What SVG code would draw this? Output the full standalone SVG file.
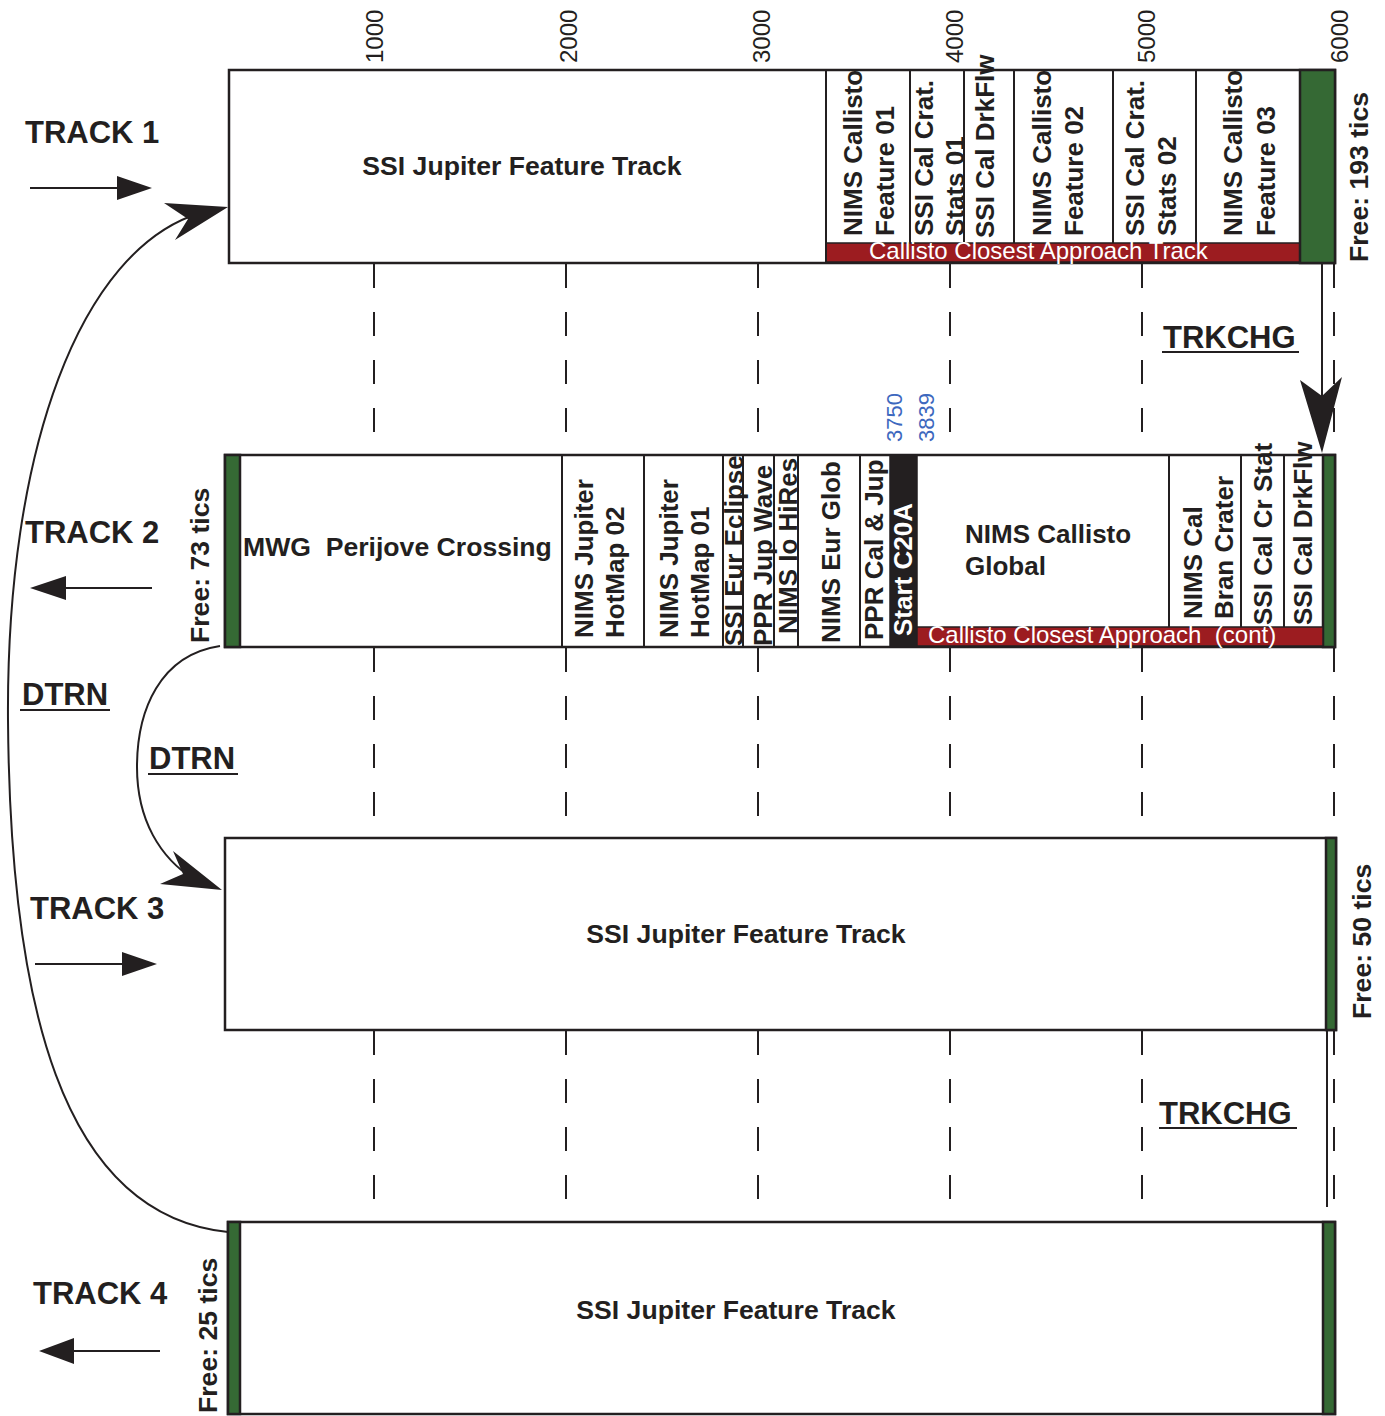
<svg xmlns="http://www.w3.org/2000/svg" width="1385" height="1416" viewBox="0 0 1385 1416">
<style>
text{font-family:"Liberation Sans",Arial,sans-serif;fill:#231f20}
.b{font-weight:bold;font-size:26px}
.m{font-weight:bold;font-size:26.6px}
.big{font-weight:bold;font-size:31px}
.lbl{font-weight:bold;font-size:31px}
.ax{font-size:24px}
.blue{font-size:22px;fill:#3d68be}
.wt{font-size:24px;fill:#ffffff;white-space:pre}
.wb{font-weight:bold;font-size:26px;fill:#ffffff}
.box{fill:#ffffff;stroke:#231f20;stroke-width:2.5}
.grn{fill:#356934;stroke:#231f20;stroke-width:2.5}
.red{fill:#9c1c20;stroke:#231f20;stroke-width:1.5}
.blk{fill:#231f20;stroke:#231f20;stroke-width:1.5}
.seg{stroke:#231f20;stroke-width:2;fill:none}
.dash{stroke:#231f20;stroke-width:2;stroke-dasharray:24 24;fill:none}
.conn{stroke:#231f20;stroke-width:2;fill:none}
.ul{stroke:#231f20;stroke-width:2}
.ah{fill:#231f20}
</style>

<g id="axis">
  <text class="ax" transform="translate(383,63) rotate(-90)">1000</text>
  <text class="ax" transform="translate(577,63) rotate(-90)">2000</text>
  <text class="ax" transform="translate(770,63) rotate(-90)">3000</text>
  <text class="ax" transform="translate(963,63) rotate(-90)">4000</text>
  <text class="ax" transform="translate(1155,63) rotate(-90)">5000</text>
  <text class="ax" transform="translate(1348,63) rotate(-90)">6000</text>
</g>

<g id="gridlines">
  <path class="dash" d="M374 264V432M566 264V432M758 264V432M950 264V432M1142 264V432M1334 264V432"/>
  <path class="dash" d="M374 648V816M566 648V816M758 648V816M950 648V816M1142 648V816M1334 648V816"/>
  <path class="dash" d="M374 1031V1199M566 1031V1199M758 1031V1199M950 1031V1199M1142 1031V1199M1334 1031V1199"/>
</g>

<g id="track1">
  <rect class="box" x="229" y="70" width="1106" height="193"/>
  <rect class="red" x="826" y="243" width="474" height="19"/>
  <rect class="grn" x="1300" y="70" width="35" height="193"/>
  <path class="seg" d="M826 70V263M910 70V243M964 70V243M1014 70V243M1113 70V243M1196 70V243"/>
  <text class="m" x="522" y="175" text-anchor="middle">SSI Jupiter Feature Track</text>
  <text class="b" transform="translate(862,236) rotate(-90)">NIMS Callisto</text>
  <text class="b" transform="translate(894,236) rotate(-90)">Feature 01</text>
  <text class="b" transform="translate(933,236) rotate(-90)">SSI Cal Crat.</text>
  <text class="b" transform="translate(964,236) rotate(-90)">Stats 01</text>
  <text class="b" transform="translate(994,238) rotate(-90)">SSI Cal DrkFlw</text>
  <text class="b" transform="translate(1051,236) rotate(-90)">NIMS Callisto</text>
  <text class="b" transform="translate(1083,236) rotate(-90)">Feature 02</text>
  <text class="b" transform="translate(1144,236) rotate(-90)">SSI Cal Crat.</text>
  <text class="b" transform="translate(1176,236) rotate(-90)">Stats 02</text>
  <text class="b" transform="translate(1242,236) rotate(-90)">NIMS Callisto</text>
  <text class="b" transform="translate(1275,236) rotate(-90)">Feature 03</text>
  <text class="wt" x="869" y="259">Callisto Closest Approach Track</text>
  <text class="m" transform="translate(1368,262) rotate(-90)">Free: 193 tics</text>
  <text class="big" x="25" y="143">TRACK 1</text>
</g>

<g id="track2">
  <rect class="box" x="225" y="455" width="1110" height="192"/>
  <rect class="grn" x="225" y="455" width="15" height="192"/>
  <rect class="grn" x="1323" y="455" width="12" height="192"/>
  <rect class="blk" x="890" y="455" width="27" height="192"/>
  <rect class="red" x="917" y="627" width="406" height="19"/>
  <path class="seg" d="M562 455V647M644 455V647M723 455V647M743 455V647M774 455V647M798 455V647M860 455V647M1169 455V627M1241 455V627M1284 455V627"/>
  <text class="m" x="243" y="556" style="white-space:pre">MWG  Perijove Crossing</text>
  <text class="b" transform="translate(593,638) rotate(-90)">NIMS Jupiter</text>
  <text class="b" transform="translate(624,638) rotate(-90)">HotMap 02</text>
  <text class="b" transform="translate(678,638) rotate(-90)">NIMS Jupiter</text>
  <text class="b" transform="translate(709,638) rotate(-90)">HotMap 01</text>
  <text class="b" transform="translate(743,646) rotate(-90)">SSI Eur Eclipse</text>
  <text class="b" transform="translate(772,646) rotate(-90)">PPR Jup Wave</text>
  <text class="b" transform="translate(797,634) rotate(-90)">NIMS Io HiRes</text>
  <text class="b" transform="translate(840,643) rotate(-90)">NIMS Eur Glob</text>
  <text class="b" transform="translate(883,640) rotate(-90)">PPR Cal &amp; Jup</text>
  <text class="wb" transform="translate(912,636) rotate(-90)">Start C20A</text>
  <text class="b" x="965" y="543">NIMS Callisto</text>
  <text class="b" x="965" y="575">Global</text>
  <text class="b" transform="translate(1202,619) rotate(-90)">NIMS Cal</text>
  <text class="b" transform="translate(1233,619) rotate(-90)">Bran Crater</text>
  <text class="b" transform="translate(1272,625) rotate(-90)">SSI Cal Cr Stat</text>
  <text class="b" transform="translate(1312,625) rotate(-90)">SSI Cal DrkFlw</text>
  <text class="wt" x="928" y="643">Callisto Closest Approach  (cont)</text>
  <text class="blue" transform="translate(902,442) rotate(-90)">3750</text>
  <text class="blue" transform="translate(934,442) rotate(-90)">3839</text>
  <text class="m" transform="translate(209,643) rotate(-90)">Free: 73 tics</text>
  <text class="big" x="25" y="543">TRACK 2</text>
</g>

<g id="track3">
  <rect class="box" x="225" y="838" width="1111" height="192"/>
  <rect class="grn" x="1326" y="838" width="10" height="192"/>
  <text class="m" x="746" y="943" text-anchor="middle">SSI Jupiter Feature Track</text>
  <text class="m" transform="translate(1371,1019) rotate(-90)">Free: 50 tics</text>
  <text class="big" x="30" y="919">TRACK 3</text>
</g>

<g id="track4">
  <rect class="box" x="228" y="1222" width="1107" height="192"/>
  <rect class="grn" x="228" y="1222" width="12" height="192"/>
  <rect class="grn" x="1323" y="1222" width="12" height="192"/>
  <text class="m" x="736" y="1319" text-anchor="middle">SSI Jupiter Feature Track</text>
  <text class="m" transform="translate(217,1413) rotate(-90)">Free: 25 tics</text>
  <text class="big" x="33" y="1304">TRACK 4</text>
</g>

<g id="direction-arrows">
  <line class="conn" x1="30" y1="188" x2="120" y2="188"/>
  <polygon class="ah" points="152,188 117,176 117,200"/>
  <line class="conn" x1="152" y1="588" x2="62" y2="588"/>
  <polygon class="ah" points="30,588 66,576 66,600"/>
  <line class="conn" x1="35" y1="964" x2="125" y2="964"/>
  <polygon class="ah" points="157,964 122,952 122,976"/>
  <line class="conn" x1="160" y1="1351" x2="70" y2="1351"/>
  <polygon class="ah" points="39,1351 74,1338 74,1364"/>
</g>

<g id="connectors">
  <path class="conn" d="M228 1232 C60 1215 10 1000 8 720 C6 450 80 250 200 213"/>
  <polygon class="ah" points="228,207 164,203 188,219 175,240"/>
  <path class="conn" d="M220 646 C160 655 137 710 137 767 C137 820 160 858 195 880"/>
  <polygon class="ah" points="222,890 173,851 183,874 160,884"/>
  <line class="conn" x1="1322" y1="263" x2="1322" y2="400"/>
  <polygon class="ah" points="1322,453 1300,380 1322,396 1342,377"/>
  <line class="conn" x1="1327" y1="1030" x2="1327" y2="1207"/>
</g>

<g id="labels">
  <text class="lbl" x="1163" y="348">TRKCHG</text>
  <line class="ul" x1="1162" y1="352" x2="1299" y2="352"/>
  <text class="lbl" x="1159" y="1124">TRKCHG</text>
  <line class="ul" x1="1159" y1="1128" x2="1297" y2="1128"/>
  <text class="lbl" x="22" y="705">DTRN</text>
  <line class="ul" x1="20" y1="710" x2="110" y2="710"/>
  <text class="lbl" x="149" y="769">DTRN</text>
  <line class="ul" x1="148" y1="774" x2="238" y2="774"/>
</g>
</svg>
